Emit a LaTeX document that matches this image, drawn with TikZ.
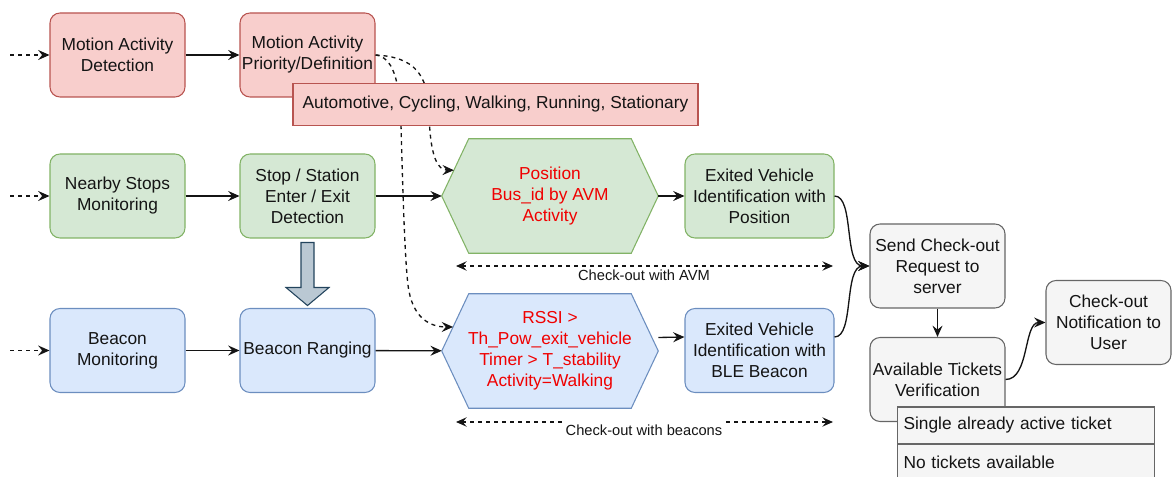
\documentclass[tikz,border=0pt]{standalone}
\usepackage{fontspec}
\setmainfont{Liberation Sans}
\usetikzlibrary{arrows.meta,calc,backgrounds}

\definecolor{redfill}{HTML}{F8CECC}
\definecolor{redline}{HTML}{B85450}
\definecolor{greenfill}{HTML}{D5E8D4}
\definecolor{greenline}{HTML}{82B366}
\definecolor{bluefill}{HTML}{DAE8FC}
\definecolor{blueline}{HTML}{6C8EBF}
\definecolor{grayfill}{HTML}{F5F5F5}
\definecolor{grayline}{HTML}{666666}
\definecolor{bigfill}{HTML}{BAC8D3}
\definecolor{bigline}{HTML}{23445D}
\definecolor{condred}{HTML}{F00000}
\definecolor{ink}{HTML}{141414}

\tikzset{
  basefont/.style={font=\fontsize{13}{15.75}\selectfont},
  box/.style={basefont, draw, line width=0.8pt, rounded corners=7.5pt,
    minimum width=101.25pt, minimum height=63pt, align=center, inner sep=1pt, text=ink},
  redbox/.style={box, fill=redfill, draw=redline},
  greenbox/.style={box, fill=greenfill, draw=greenline},
  bluebox/.style={box, fill=bluefill, draw=blueline},
  graybox/.style={box, fill=grayfill, draw=grayline},
  hexnode/.style={basefont, minimum width=162pt, minimum height=85.5pt,
    align=center, inner sep=1pt, text=condred},
  hexgreen/.style={fill=greenfill, draw=greenline, line width=0.8pt, line join=miter},
  hexblue/.style={fill=bluefill, draw=blueline, line width=0.8pt, line join=miter},
  listrow/.style={basefont, draw=grayline, fill=grayfill, line width=0.8pt,
    minimum height=27.75pt, text width=183.75pt, inner xsep=4.5pt, align=left, anchor=west, text=ink},
  arr/.style={line width=1pt, draw=ink, -{Stealth[length=8.5pt,width=7.5pt,inset=3pt]}},
  dasharr/.style={arr, dash pattern=on 3pt off 3pt},
  spanarr/.style={line width=0.9pt, draw=ink, dash pattern=on 3pt off 3pt,
    {Stealth[length=8pt,width=7pt,inset=3pt]}-{Stealth[length=8pt,width=7pt,inset=3pt]}},
  spanlbl/.style={font=\fontsize{11}{13}\selectfont, text=ink, inner sep=3pt},
  blockarrow/.style={fill=bigfill, draw=bigline, line width=0.8pt, line join=miter},
}

\begin{document}
\begin{tikzpicture}[x=0.75pt, y=-0.75pt]
\useasboundingbox (0,0) rectangle (1172,477);
\clip (0,0) rectangle (1172,477);

% first column and second column of process boxes
\node[redbox]   (mad) at (117.5,55)    {Motion Activity\\Detection};
\node[redbox]   (map) at (307.5,55)    {Motion Activity\\Priority/Definition};
\node[greenbox] (nsm) at (117.5,196)   {Nearby Stops\\Monitoring};
\node[greenbox] (sse) at (307.5,196)   {Stop / Station\\Enter / Exit\\Detection};
\node[bluebox]  (bm)  at (117.5,350.5) {Beacon\\Monitoring};
\node[bluebox]  (br)  at (307.5,350.5) {Beacon Ranging};

% decision hexagons
\node[hexnode] (gh) at (550,196) {Position\\Bus\_id by AVM\\Activity};
\node[hexnode] (bh) at (550,351) {RSSI >\\Th\_Pow\_exit\_vehicle\\Timer > T\_stability\\Activity=Walking};
\begin{pgfonlayer}{background}
  \draw[hexgreen] (gh.west) -- ($(gh.north west)+(27,0)$) -- ($(gh.north east)+(-27,0)$)
    -- (gh.east) -- ($(gh.south east)+(-27,0)$) -- ($(gh.south west)+(27,0)$) -- cycle;
  \draw[hexblue] (bh.west) -- ($(bh.north west)+(27,0)$) -- ($(bh.north east)+(-27,0)$)
    -- (bh.east) -- ($(bh.south east)+(-27,0)$) -- ($(bh.south west)+(27,0)$) -- cycle;
\end{pgfonlayer}
\coordinate (ghnw) at ($(gh.north west)+(27,0)$);
\coordinate (bhnw) at ($(bh.north west)+(27,0)$);
\coordinate (ghin) at ($(gh.west)!0.45!(ghnw)$);
\coordinate (bhin) at ($(bh.west)!0.42!(bhnw)$);

% exit identification
\node[greenbox, minimum width=111.75pt] (evp) at (759.5,196)   {Exited Vehicle\\Identification with\\Position};
\node[bluebox,  minimum width=111.75pt] (evb) at (759.5,350.5) {Exited Vehicle\\Identification with\\BLE Beacon};

% server side
\node[graybox] (scr) at (937.5,266)   {Send Check-out\\Request to\\server};
\node[graybox] (atv) at (937.5,379.5) {Available Tickets\\Verification};
\node[graybox, minimum width=93.75pt] (cnu) at (1108.5,322.5) {Check-out\\Notification to\\User};

% incoming dashed arrows
\coordinate (in1) at (10,55);
\coordinate (in2) at (10,196);
\coordinate (in3) at (10,350.5);
\draw[dasharr] (in1) -- (mad);
\draw[dasharr] (in2) -- (nsm);
\draw[dasharr] (in3) -- (bm);

% main flow
\draw[arr] (mad) -- (map);
\draw[arr] (nsm) -- (sse);
\draw[arr] (sse) -- (gh);
\draw[arr] (gh) -- (evp);
\draw[arr] (bm) -- (br);
\draw[arr] (br) -- (bh);
\draw[arr] ($(bh.east)+(0,-13.5)$) -- ($(evb.west)+(0,-13.5)$);
\draw[arr] (scr) -- (atv);
\draw[arr] (evp.east) .. controls +(20,0) and +(-26,0) .. (scr.west);
\draw[arr] ($(evb.east)+(0,-13.5)$) .. controls +(20,0) and +(-26,0) .. (scr.west);
\draw[arr] (atv.east) .. controls +(24,0) and +(-22,0) .. (cnu.west);

% activity links from the priority box
\draw[dasharr] (map.east) .. controls (392,57) and (400,78) .. (401,125)
  .. controls (403,200) and (405,260) .. (408,285)
  .. controls (412,318) and (430,327) .. (bhin);
\draw[dasharr] (map.east) .. controls (414,57) and (428,74) .. (429,112)
  .. controls (430,158) and (438,170) .. (ghin);

% activity list
\node[draw=redline, fill=redfill, line width=0.8pt, basefont, text=ink,
  minimum width=303.75pt, minimum height=31.5pt, inner sep=1pt] (acts) at (495.5,104.5)
  {Automotive, Cycling, Walking, Running, Stationary};

% block arrow between stop detection and beacon ranging
\coordinate (ba) at ($(sse.south)+(0,4)$);
\draw[blockarrow] ($(ba)+(-6.5,0)$) -- ($(ba)+(6.5,0)$) -- ($(ba)+(6.5,45)$) -- ($(ba)+(21.5,45)$)
  -- ($(ba)+(0,63)$) -- ($(ba)+(-21.5,45)$) -- ($(ba)+(-6.5,45)$) -- cycle;

% check-out spans
\coordinate (avmL) at (456,266);
\coordinate (avmR) at (833,266);
\draw[spanarr] (avmL) -- (avmR);
\node[spanlbl, anchor=north] (lavm) at (644,266) {Check-out with AVM};
\coordinate (bcnL) at (456,422);
\coordinate (bcnR) at (833,422);
\draw[spanarr] (bcnL) -- (bcnR);
\node[spanlbl, fill=white] (lbcn) at (644,430) {Check-out with beacons};

% ticket outcomes
\node[listrow] (o1) at (897,425.5) {Single already active ticket};
\node[listrow] (o2) at (897,462.5) {No tickets available};
\end{tikzpicture}
\end{document}
